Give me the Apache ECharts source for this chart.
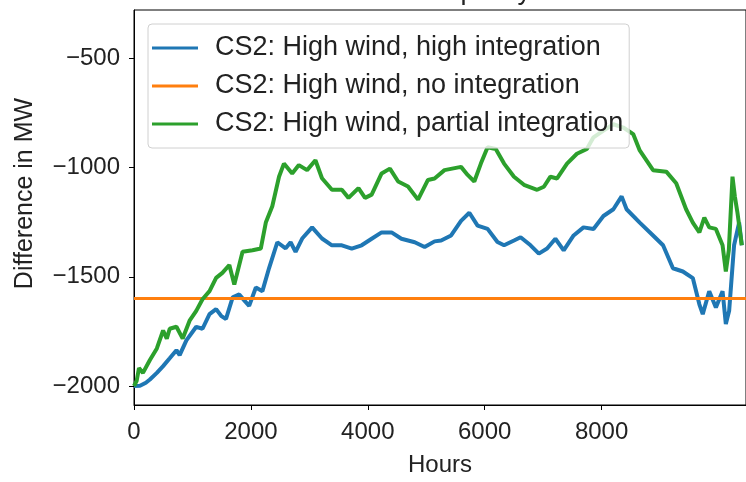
<!DOCTYPE html>
<html>
<head>
<meta charset="utf-8">
<script src="https://cdn.jsdelivr.net/npm/echarts@6/dist/echarts.min.js"></script>
<style>html,body{margin:0;padding:0;background:#fff;}#c{width:746px;height:482px;}</style>
</head>
<body>
<div id="c"></div>
<script>
const seriesNames = ['CS2: High wind, high integration', 'CS2: High wind, no integration', 'CS2: High wind, partial integration'];
const xTicks = [0, 2000, 4000, 6000, 8000];
const yTicks = [-2000, -1500, -1000, -500];

const highHours = [0,102,203,272,391,498,611,726,781,896,1065,1172,1292,1405,1495,1574,1688,1801,1886,1970,2085,2197,2311,2452,2594,2679,2764,2877,3047,3216,3386,3556,3725,3895,4066,4236,4406,4575,4803,4972,5142,5254,5425,5595,5737,5878,6049,6218,6331,6501,6614,6784,6926,7067,7209,7351,7521,7690,7861,8031,8201,8342,8427,8652,8880,9051,9220,9390,9560,9672,9730,9841,9955,10069,10125,10182,10266,10352,10398];
const highMW = [-2000,-1999,-1985,-1970,-1940,-1909,-1873,-1836,-1859,-1791,-1729,-1738,-1671,-1648,-1680,-1693,-1594,-1581,-1608,-1633,-1549,-1566,-1460,-1342,-1370,-1342,-1386,-1325,-1274,-1325,-1356,-1356,-1371,-1356,-1326,-1297,-1297,-1326,-1342,-1364,-1338,-1334,-1311,-1244,-1207,-1266,-1281,-1341,-1356,-1334,-1319,-1356,-1394,-1371,-1326,-1379,-1311,-1274,-1281,-1222,-1191,-1132,-1191,-1252,-1311,-1356,-1461,-1476,-1506,-1626,-1671,-1566,-1641,-1566,-1716,-1656,-1356,-1252,-1356];

const noHours = [0, 10550];
const noMW = [-1600, -1600];

const partialHours = [0,46,85,153,272,391,498,561,611,726,833,951,1065,1172,1292,1405,1512,1631,1716,1857,2027,2169,2255,2366,2481,2565,2706,2820,2961,3104,3216,3386,3556,3670,3840,3953,4066,4236,4378,4519,4688,4859,5029,5142,5312,5595,5708,5822,5934,6049,6189,6331,6501,6671,6897,7012,7124,7238,7408,7577,7747,7861,8031,8201,8371,8540,8652,8880,9106,9276,9445,9560,9672,9757,9841,9955,10069,10125,10176,10239,10279,10324,10398];
const partialMW = [-2000,-1976,-1918,-1940,-1881,-1828,-1746,-1783,-1738,-1729,-1783,-1701,-1656,-1603,-1566,-1505,-1482,-1446,-1536,-1386,-1379,-1371,-1252,-1177,-1042,-982,-1027,-989,-1012,-967,-1049,-1102,-1102,-1139,-1094,-1139,-1124,-1027,-1005,-1064,-1087,-1147,-1057,-1050,-1012,-997,-1034,-1064,-982,-907,-915,-982,-1042,-1079,-1102,-1088,-1042,-1050,-982,-937,-915,-862,-831,-802,-817,-847,-922,-1012,-1019,-1072,-1191,-1252,-1297,-1229,-1274,-1281,-1356,-1476,-1379,-1042,-1132,-1207,-1356];

const colors = ['#1f77b4', '#ff7f0e', '#2ca02c'];
const pair = (xs, ys) => xs.map((x, i) => [x, ys[i]]);
const FONT = '"Liberation Sans", Arial, sans-serif';
const minus = v => String(v).replace('-', '\u2212');

const chart = echarts.init(document.getElementById('c'), null, {renderer: 'canvas'});
chart.setOption({
  animation: false,
  backgroundColor: '#fff',
  title: {
    text: 'Difference in total capacity',
    left: 'center', top: -27,
    textStyle: {fontFamily: FONT, fontSize: 27, fontWeight: 'normal', color: '#222'}
  },
  grid: {left: 134, top: 10, right: -9, bottom: 69, show: true, borderColor: '#000', borderWidth: 1, backgroundColor: 'transparent'},
  legend: {
    orient: 'vertical', left: 148, top: 24,
    icon: 'rect', itemWidth: 46, itemHeight: 3, itemGap: 10,
    padding: [10, 6, 10, 4],
    backgroundColor: 'rgba(255,255,255,0.8)',
    borderColor: '#d0d0d0', borderWidth: 1, borderRadius: 4,
    textStyle: {fontFamily: FONT, fontSize: 27, color: '#222', lineHeight: 28, padding: [0, 0, 0, 12]},
    data: seriesNames
  },
  xAxis: {
    type: 'value', min: 0, max: 10470,
    name: 'Hours', nameLocation: 'middle', nameGap: 48,
    nameTextStyle: {fontFamily: FONT, fontSize: 24, color: '#222'},
    axisLine: {show: true, lineStyle: {color: '#000', width: 1}},
    axisTick: {show: true, length: 5, lineStyle: {color: '#000'}, customValues: xTicks},
    axisLabel: {fontFamily: FONT, fontSize: 24, color: '#222', margin: 15, customValues: xTicks, formatter: v => String(v)},
    splitLine: {show: false}
  },
  yAxis: {
    type: 'value', min: -2087, max: -279,
    name: 'Difference in MW', nameLocation: 'middle', nameGap: 96, nameRotate: 90,
    nameTextStyle: {fontFamily: FONT, fontSize: 25, color: '#222', padding: [0, 0, 0, 28]},
    axisLine: {show: true, lineStyle: {color: '#000', width: 1}},
    axisTick: {show: true, length: 5, lineStyle: {color: '#000'}, customValues: yTicks},
    axisLabel: {fontFamily: FONT, fontSize: 24, color: '#222', margin: 14, customValues: yTicks, formatter: minus},
    splitLine: {show: false}
  },
  series: [
    {name: seriesNames[0], type: 'line', data: pair(highHours, highMW), showSymbol: false, symbol: 'none', lineStyle: {color: colors[0], width: 4}, itemStyle: {color: colors[0]}},
    {name: seriesNames[1], type: 'line', data: pair(noHours, noMW), showSymbol: false, symbol: 'none', lineStyle: {color: colors[1], width: 3}, itemStyle: {color: colors[1]}},
    {name: seriesNames[2], type: 'line', data: pair(partialHours, partialMW), showSymbol: false, symbol: 'none', lineStyle: {color: colors[2], width: 4}, itemStyle: {color: colors[2]}}
  ]
});
</script>
</body>
</html>
